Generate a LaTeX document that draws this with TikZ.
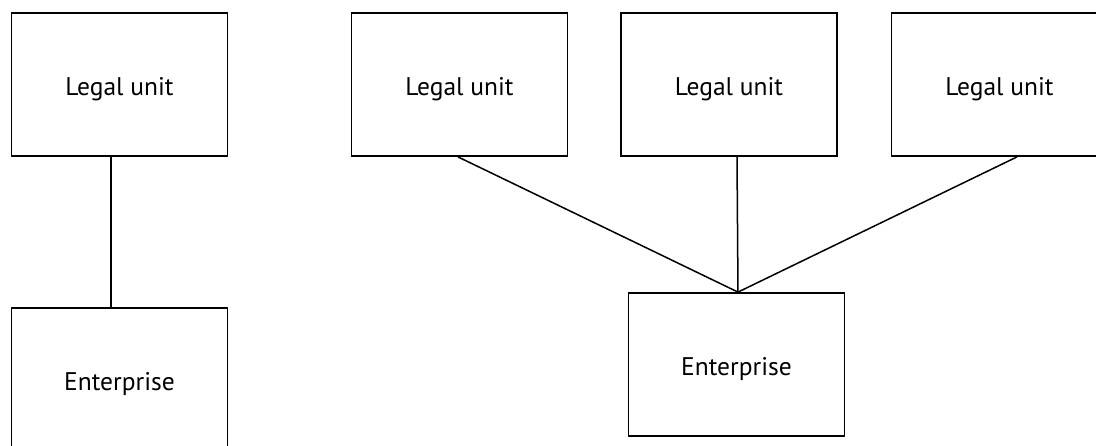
\documentclass[tikz,border=0pt]{standalone}
\usepackage{fontspec}
\setmainfont{PT Sans}
\begin{document}
\begin{tikzpicture}[x=1pt,y=-1pt,
  unitbox/.style={draw=black,line width=1.8pt,fill=white,
    minimum width=216pt,minimum height=143pt,inner sep=0pt,
    text height=22.4pt,text depth=0pt,
    font=\fontsize{25.5}{30}\selectfont},
  link/.style={draw=black,line width=1.5pt}]
  \useasboundingbox (0,0) rectangle (1096,446);
  % single legal unit owning one enterprise
  \node[unitbox] (lu0) at (119.5,84.5) {Legal unit};
  \node[unitbox] (ent0) at (119.5,379.5) {Enterprise};
  % three legal units grouped into one enterprise
  \node[unitbox] (lu1) at (459.5,84.5) {Legal unit};
  \node[unitbox] (lu2) at (729,84.5) {Legal unit};
  \node[unitbox] (lu3) at (999.5,84.5) {Legal unit};
  \node[unitbox] (ent1) at (736.5,364.5) {Enterprise};
  \draw[link] ([xshift=-8.5pt]lu0.south) -- ([xshift=-8.5pt]ent0.north);
  \coordinate (apex) at ([xshift=1.5pt]ent1.north);
  \draw[link] ([xshift=-1.5pt]lu1.south) -- (apex);
  \draw[link] ([xshift=8pt]lu2.south) -- (apex);
  \draw[link] ([xshift=17.5pt]lu3.south) -- (apex);
\end{tikzpicture}
\end{document}
